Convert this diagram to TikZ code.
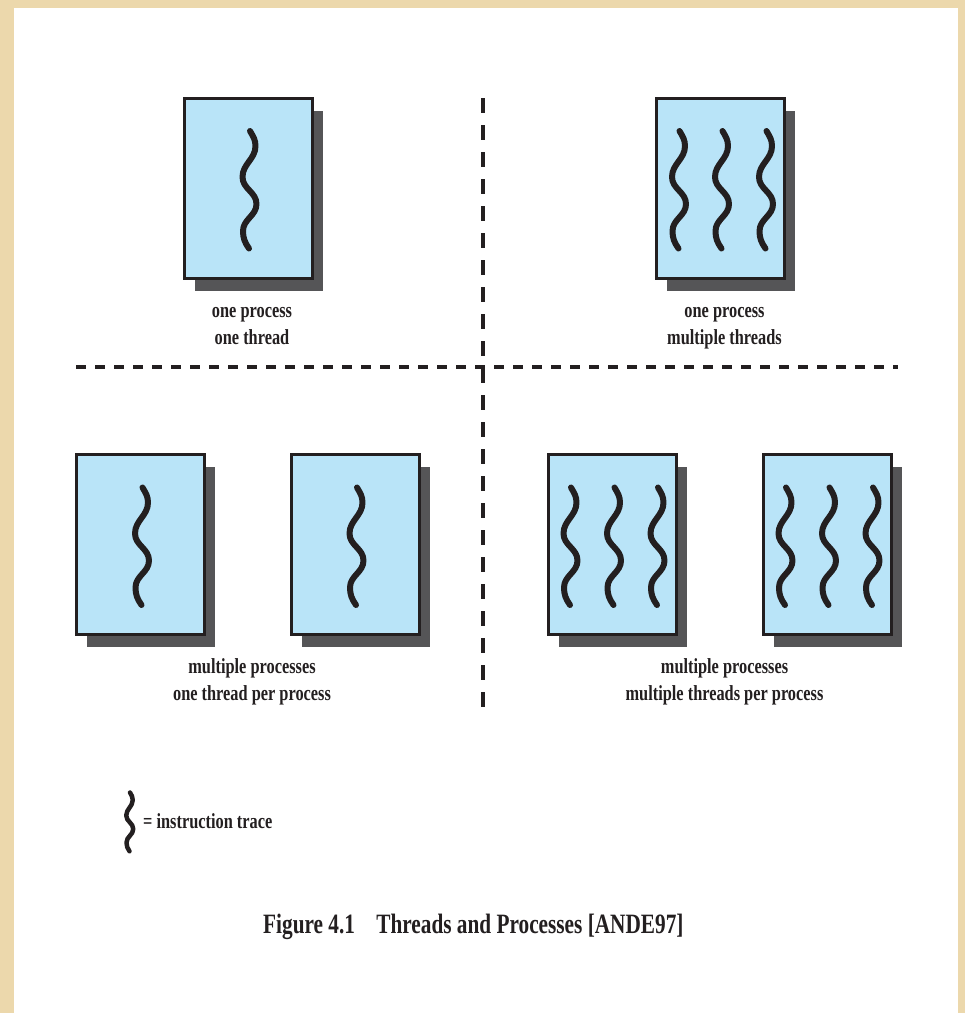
\documentclass[tikz,border=0pt]{standalone}
\usepackage{fontspec}
\newfontfamily\lblfont{Liberation Serif}[FakeStretch=0.76]
\usetikzlibrary{shadows}

\definecolor{parchment}{RGB}{236,216,172}
\definecolor{procblue}{RGB}{185,228,248}
\definecolor{inkblack}{RGB}{35,31,32}
\definecolor{shadowgray}{RGB}{85,85,87}

\tikzset{
  procbox/.style={draw=inkblack, line width=3pt, fill=procblue,
    minimum width=128pt, minimum height=180pt, inner sep=0pt,
    drop shadow={shadow xshift=10.5pt, shadow yshift=-12.5pt, opacity=1, fill=shadowgray}},
  trace/.style={draw=inkblack, line cap=round, line join=round},
  % one wavy instruction trace, centred on the pic origin
  pics/squig/.style={code={
    \draw[trace, line width=#1] (2,-57)
      to[out=-60,in=90] (7.5,-42)
      to[out=-90,in=90] (-5.5,-11)
      to[out=-90,in=90] (8.5,16)
      to[out=-90,in=90] (-5,43)
      to[out=-90,in=125] (1,60.5);
  }},
  pics/squig/.default=6pt,
  lbl/.style={font=\lblfont\bfseries\fontsize{21.5}{27}\selectfont, text=inkblack,
    inner sep=0pt, anchor=base},
  vdivider/.style={draw=inkblack, line width=3.3pt, dash pattern=on 15pt off 12pt},
  hdivider/.style={draw=inkblack, line width=4pt, dash pattern=on 10pt off 9pt},
}

\begin{document}
\begin{tikzpicture}[x=1pt, y=-1pt]
  \useasboundingbox (0,0) rectangle (965,1013);
  \fill[parchment] (0,0) rectangle (965,1013);
  \fill[white] (14,8) rectangle (958,1013);

  % quadrant dividers
  \coordinate (vtop) at (483,98);
  \coordinate (vbot) at (483,713);
  \coordinate (hleft) at (76,367);
  \coordinate (hright) at (898,367);
  \draw[vdivider] (vtop) -- (vbot);
  \draw[hdivider] (hleft) -- (hright);

  % one process, one thread
  \node[procbox] (pA) at (248,188) {};
  \pic (tA) at (pA.center) {squig};
  \node[lbl] (lA1) at (252,317.5) {one process};
  \node[lbl] (lA2) at (252,344.5) {one thread};

  % one process, multiple threads
  \node[procbox] (pB) at (720.5,188) {};
  \pic (tB1) at ([xshift=-43pt]pB.center) {squig};
  \pic (tB2) at (pB.center) {squig};
  \pic (tB3) at ([xshift=44pt]pB.center) {squig};
  \node[lbl] (lB1) at (724.5,317.5) {one process};
  \node[lbl] (lB2) at (724.5,344.5) {multiple threads};

  % multiple processes, one thread each
  \node[procbox] (pC) at (140.5,544.5) {};
  \pic (tC) at (pC.center) {squig};
  \node[procbox] (pD) at (355,544.5) {};
  \pic (tD) at (pD.center) {squig};
  \node[lbl] (lC1) at (252,673.5) {multiple processes};
  \node[lbl] (lC2) at (252,700.5) {one thread per process};

  % multiple processes, multiple threads each
  \node[procbox] (pE) at (612.5,544.5) {};
  \pic (tE1) at ([xshift=-43.5pt]pE.center) {squig};
  \pic (tE2) at (pE.center) {squig};
  \pic (tE3) at ([xshift=43.5pt]pE.center) {squig};
  \node[procbox] (pF) at (827.5,544.5) {};
  \pic (tF1) at ([xshift=-43.5pt]pF.center) {squig};
  \pic (tF2) at (pF.center) {squig};
  \pic (tF3) at ([xshift=43.5pt]pF.center) {squig};
  \node[lbl] (lE1) at (724.5,673.5) {multiple processes};
  \node[lbl] (lE2) at (724.5,700.5) {multiple threads per process};

  % legend
  \pic[scale=0.5] (tLeg) at (129,821) {squig=4.5pt};
  \node[lbl, anchor=base west] (lLeg) at (143,828) {= instruction trace};

  % caption
  \node[lbl, anchor=base west, font=\lblfont\bfseries\fontsize{28}{33}\selectfont]
    (cap) at (263,933) {Figure 4.1\hspace{16pt} Threads and Processes [ANDE97]};
\end{tikzpicture}
\end{document}
